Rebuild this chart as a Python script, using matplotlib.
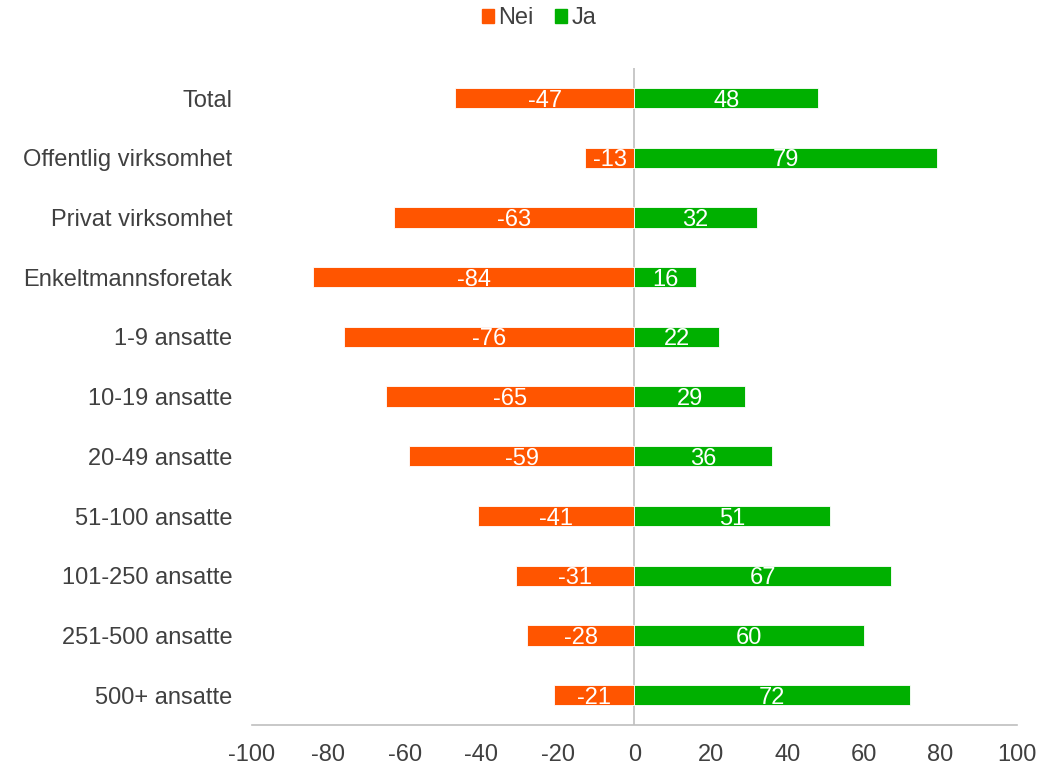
import matplotlib.pyplot as plt
from matplotlib.patches import Patch

categories = ["Total", "Offentlig virksomhet", "Privat virksomhet", "Enkeltmannsforetak",
              "1-9 ansatte", "10-19 ansatte", "20-49 ansatte", "51-100 ansatte",
              "101-250 ansatte", "251-500 ansatte", "500+ ansatte"]
nei = [-47, -13, -63, -84, -76, -65, -59, -41, -31, -28, -21]
ja = [48, 79, 32, 16, 22, 29, 36, 51, 67, 60, 72]

c_nei = "#FF5500"
c_ja = "#00B000"
txt = "#404040"

plt.rcParams['font.family'] = ['Liberation Sans', 'DejaVu Sans']
plt.rcParams['axes.unicode_minus'] = False

fig = plt.figure(figsize=(10.61, 7.66), dpi=100)
ax = fig.add_axes([0.2375, 0.0535, 0.721, 0.8575])

y = list(range(len(categories)))
h = 0.34
ax.barh(y, nei, height=h, color=c_nei, edgecolor="white", linewidth=0.6)
ax.barh(y, ja, height=h, color=c_ja, edgecolor="white", linewidth=0.6)

fs = 17
for i in range(len(categories)):
    ax.text(nei[i] / 2, i, str(nei[i]), ha="center", va="center_baseline", color="white", fontsize=fs)
    ax.text(ja[i] / 2, i, str(ja[i]), ha="center", va="center_baseline", color="white", fontsize=fs)

ax.axvline(0, color="#BFBFBF", linewidth=1.2, zorder=0)

ax.set_xlim(-100, 100)
ax.set_ylim(len(categories) - 0.5, -0.5)
ax.set_xticks(range(-100, 101, 20))
ax.set_yticks(y)
ax.set_yticklabels(categories)
ax.tick_params(axis="both", length=0, labelsize=fs, colors=txt)
ax.tick_params(axis="x", pad=14)
ax.tick_params(axis="y", pad=14)
for s in ["top", "right", "left"]:
    ax.spines[s].set_visible(False)
ax.spines["bottom"].set_color("#BFBFBF")
ax.spines["bottom"].set_linewidth(1.2)

handles = [Patch(color=c_nei, label="Nei"), Patch(color=c_ja, label="Ja")]
fig.legend(handles=handles, loc="upper center", bbox_to_anchor=(0.508, 1.018), ncol=2,
           frameon=False, fontsize=fs, handlelength=0.5, handleheight=0.5,
           handletextpad=0.2, columnspacing=0.9, labelcolor=txt)

fig.savefig("out.png", dpi=100)
